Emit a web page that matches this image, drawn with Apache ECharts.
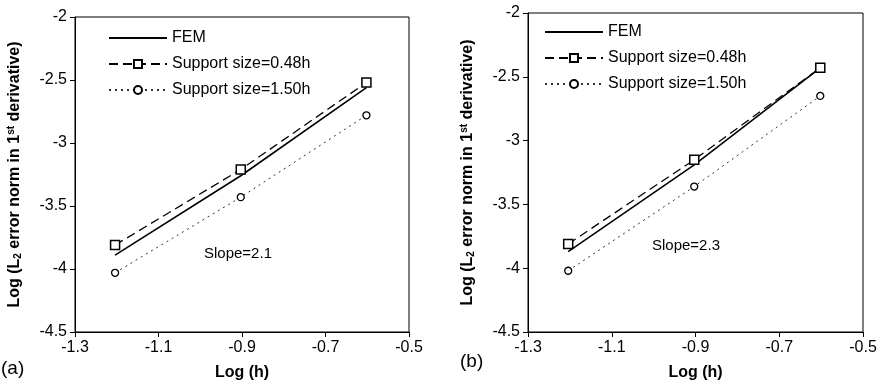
<!DOCTYPE html>
<html>
<head>
<meta charset="utf-8">
<script src="https://cdn.jsdelivr.net/npm/echarts@6/dist/echarts.min.js"></script>
<style>
  html, body { margin: 0; padding: 0; background: #fff; }
  #chart { width: 881px; height: 386px; }
</style>
</head>
<body>
<div id="chart"></div>
<script>
// log10(h) for h = 1/16, 1/8, 1/4
const logH = [-1.204, -0.903, -0.602];

// panel (a)
const femA = [-3.89, -3.26, -2.56];
const s048A = [-3.81, -3.21, -2.52];
const s150A = [-4.03, -3.43, -2.78];

// panel (b)
const femB = [-3.87, -3.19, -2.43];
const s048B = [-3.81, -3.15, -2.43];
const s150B = [-4.02, -3.36, -2.65];

const names = ['FEM', 'Support size=0.48h', 'Support size=1.50h'];
const slopes = ['Slope=2.1', 'Slope=2.3'];
const panelTags = ['(a)', '(b)'];

const font = 'Arial';
const pairs = (ys) => logH.map((x, i) => [x, ys[i]]);

function makeSeries(idx, fem, s048, s150) {
  return [
    {
      name: names[0], type: 'line', xAxisIndex: idx, yAxisIndex: idx,
      data: pairs(fem), symbol: 'none', silent: true,
      lineStyle: { color: '#000', width: 1.6 },
      itemStyle: { color: '#000' },
    },
    {
      name: names[1], type: 'line', xAxisIndex: idx, yAxisIndex: idx,
      data: pairs(s048), symbol: 'rect', symbolSize: 9, silent: true,
      lineStyle: { color: '#000', width: 1.3, type: [9, 5] },
      itemStyle: { color: '#fff', borderColor: '#000', borderWidth: 1.5 },
    },
    {
      name: names[2], type: 'line', xAxisIndex: idx, yAxisIndex: idx,
      data: pairs(s150), symbol: 'circle', symbolSize: 7, silent: true,
      lineStyle: { color: '#333', width: 1, type: [2, 4] },
      itemStyle: { color: '#fff', borderColor: '#000', borderWidth: 1.3 },
    },
  ];
}

const yName = '{b|Log (L}{sub|2}{b| error norm in 1}{sup|st}{b| derivative)}';
const yRich = {
  b: { fontFamily: font, fontWeight: 'bold', fontSize: 16, lineHeight: 20, verticalAlign: 'middle' },
  sub: { fontFamily: font, fontWeight: 'bold', fontSize: 10, lineHeight: 20, verticalAlign: 'bottom', padding: [0, 0, 2, 0] },
  sup: { fontFamily: font, fontWeight: 'bold', fontSize: 10, lineHeight: 20, verticalAlign: 'top', padding: [1, 0, 0, 0] },
};

function xAxis(idx) {
  return {
    type: 'value', gridIndex: idx, min: -1.3, max: -0.5, interval: 0.2,
    name: 'Log (h)', nameLocation: 'middle', nameGap: 33,
    nameTextStyle: { fontFamily: font, fontWeight: 'bold', fontSize: 16, color: '#000' },
    axisLine: { lineStyle: { color: '#000', width: 1 } },
    axisTick: { inside: false, length: 5, lineStyle: { color: '#000' } },
    axisLabel: { fontFamily: font, fontSize: 16, color: '#000', margin: 8 },
    splitLine: { show: false },
  };
}

function yAxis(idx) {
  return {
    type: 'value', gridIndex: idx, min: -4.5, max: -2, interval: 0.5,
    name: yName, nameLocation: 'middle', nameGap: 50, nameRotate: 90,
    nameTextStyle: { rich: yRich, color: '#000' },
    axisLine: { lineStyle: { color: '#000', width: 1 } },
    axisTick: { inside: false, length: 5, lineStyle: { color: '#000' } },
    axisLabel: { fontFamily: font, fontSize: 16, color: '#000', margin: 8 },
    splitLine: { show: false },
  };
}

// FEM legend entry: line only, hide the default marker
const legendData = [{ name: names[0], itemStyle: { opacity: 0 } }, { name: names[1] }, { name: names[2] }];
const legendBase = {
  orient: 'vertical', data: legendData, itemWidth: 58, itemHeight: 10, itemGap: 10,
  padding: 0, selectedMode: false,
  textStyle: { fontFamily: font, fontSize: 16, color: '#000' },
};

const chart = echarts.init(document.getElementById('chart'));
chart.setOption({
  animation: false,
  backgroundColor: '#fff',
  grid: [
    { left: 75, top: 17, width: 334, height: 319, show: true, borderColor: '#000', borderWidth: 1 },
    { left: 528, top: 13, width: 335, height: 321, show: true, borderColor: '#000', borderWidth: 1 },
  ],
  xAxis: [xAxis(0), xAxis(1)],
  yAxis: [yAxis(0), yAxis(1)],
  legend: [
    Object.assign({}, legendBase, { left: 108, top: 30 }),
    Object.assign({}, legendBase, { left: 544, top: 24 }),
  ],
  graphic: [
    { type: 'text', left: 204, top: 246, style: { text: slopes[0], fontFamily: font, fontSize: 15, fill: '#000' } },
    { type: 'text', left: 652, top: 238, style: { text: slopes[1], fontFamily: font, fontSize: 15, fill: '#000' } },
    { type: 'text', left: 1, top: 359, style: { text: panelTags[0], fontFamily: font, fontSize: 19, fill: '#000' } },
    { type: 'text', left: 460, top: 352, style: { text: panelTags[1], fontFamily: font, fontSize: 19, fill: '#000' } },
  ],
  series: [].concat(makeSeries(0, femA, s048A, s150A), makeSeries(1, femB, s048B, s150B)),
});
</script>
</body>
</html>
